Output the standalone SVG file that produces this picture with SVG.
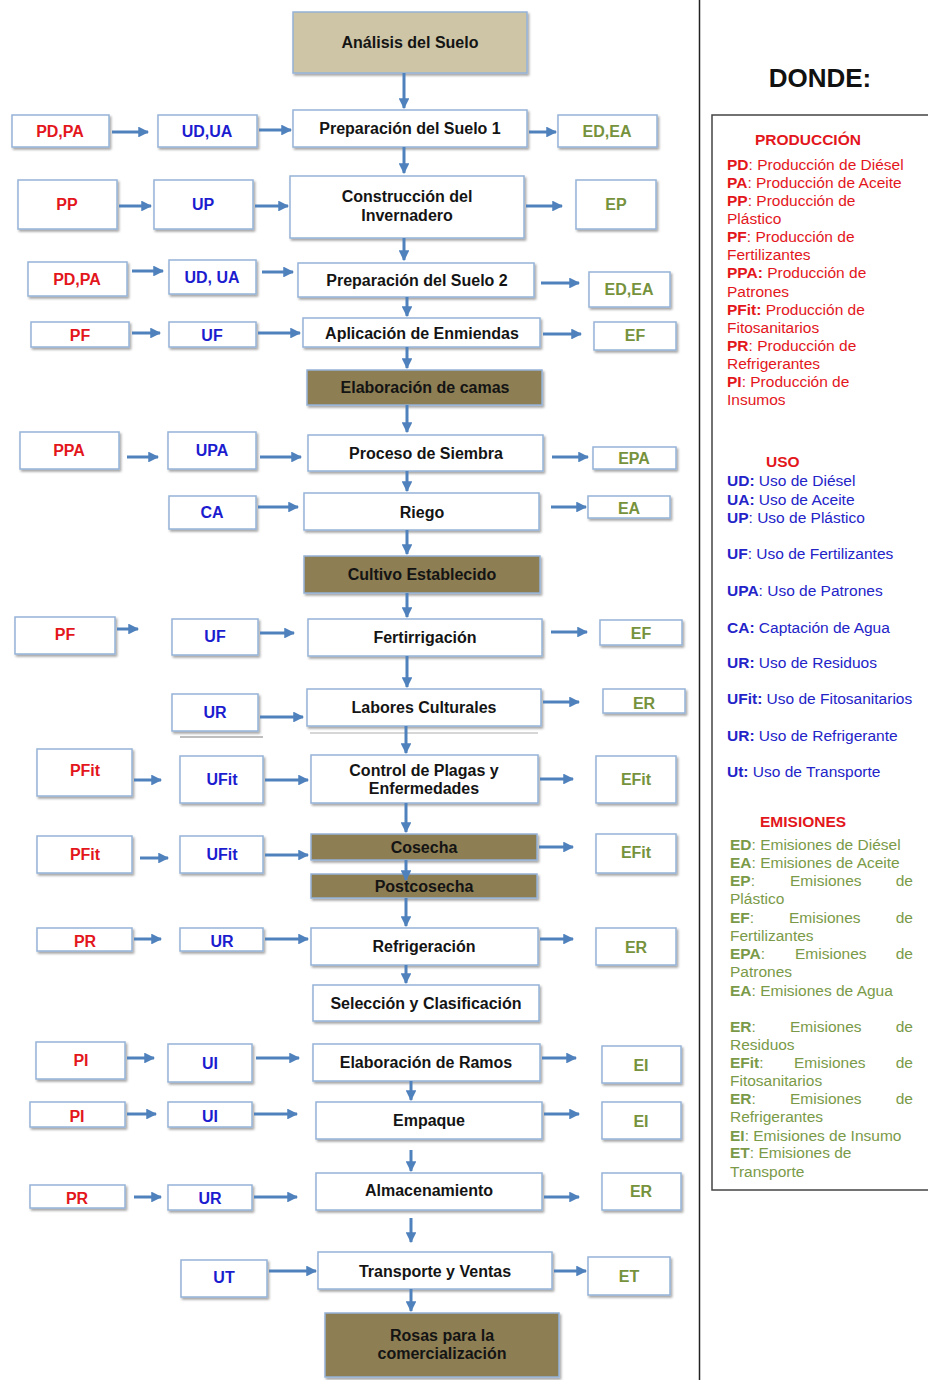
<svg xmlns="http://www.w3.org/2000/svg" width="928" height="1380" viewBox="0 0 928 1380">
<defs>
  <filter id="sh" x="-10%" y="-10%" width="130%" height="140%">
    <feDropShadow dx="1.5" dy="2" stdDeviation="1.2" flood-color="#000" flood-opacity="0.35"/>
  </filter>
  <marker id="ah" viewBox="0 0 10 10" refX="9" refY="5" markerWidth="3.6" markerHeight="3.6" orient="auto" markerUnits="strokeWidth">
    <path d="M0,0 L10,5 L0,10 z" fill="#4f81bd"/>
  </marker>
  <style>
    .b{fill:#fff;stroke:#95b3d7;stroke-width:1.5;filter:url(#sh)}
    .k1{fill:#cdc5a5;stroke:#95b3d7;stroke-width:1.5;filter:url(#sh)}
    .k2{fill:#8d7e53;stroke:#95b3d7;stroke-width:1.5;filter:url(#sh)}
    text{font-family:"Liberation Sans",Arial,sans-serif}
    .m{font-size:16px;font-weight:bold;fill:#141414;text-anchor:middle}
    .p{font-size:16px;font-weight:bold;fill:#e3161c;text-anchor:middle}
    .u{font-size:16px;font-weight:bold;fill:#1c1ccf;text-anchor:middle}
    .e{font-size:16px;font-weight:bold;fill:#76923c;text-anchor:middle}
    .c line{stroke:#4f81bd;stroke-width:3;marker-end:url(#ah)}
    .lg{font-size:15.5px}
    .lr{fill:#e3161c}
    .lu{fill:#2323c8}
    .le{fill:#7a9a48}
    .bo{font-weight:bold}
  </style>
</defs>
<rect width="928" height="1380" fill="#fff"/>

<!-- separator and legend frame -->
<line x1="699.5" y1="0" x2="699.5" y2="1380" stroke="#222" stroke-width="1.5"/>
<rect x="712" y="115" width="220" height="1075" fill="none" stroke="#444" stroke-width="1.5"/>
<text x="820" y="87" style="font-size:26px;font-weight:bold;fill:#111" text-anchor="middle">DONDE:</text>

<!-- main process column -->
<g id="n1"><rect class="k1" x="293" y="12" width="234" height="61"/><text class="m" x="410" y="47.5">Análisis del Suelo</text></g>
<g id="n2"><rect class="b" x="293" y="110" width="234" height="37"/><text class="m" x="410" y="133.5">Preparación del Suelo 1</text></g>
<g id="n3"><rect class="b" x="290" y="176" width="234" height="62"/><text class="m" x="407" y="202">Construcción del</text><text class="m" x="407" y="221">Invernadero</text></g>
<g id="n4"><rect class="b" x="298" y="263" width="236" height="34"/><text class="m" x="417" y="286">Preparación del Suelo 2</text></g>
<g id="n5"><rect class="b" x="303" y="318" width="237" height="29"/><text class="m" x="422" y="338.5">Aplicación de Enmiendas</text></g>
<g id="n6"><rect class="k2" x="307" y="370" width="235" height="35"/><text class="m" x="425" y="393">Elaboración de camas</text></g>
<g id="n7"><rect class="b" x="308" y="435" width="235" height="36"/><text class="m" x="426" y="458.5">Proceso de Siembra</text></g>
<g id="n8"><rect class="b" x="304" y="493" width="235" height="37"/><text class="m" x="422" y="517.5">Riego</text></g>
<g id="n9"><rect class="k2" x="304" y="556" width="236" height="37"/><text class="m" x="422" y="580">Cultivo Establecido</text></g>
<g id="n10"><rect class="b" x="308" y="619" width="234" height="37"/><text class="m" x="425" y="643">Fertirrigación</text></g>
<g id="n11"><rect class="b" x="307" y="689" width="234" height="37"/><text class="m" x="424" y="713">Labores Culturales</text><line x1="310" y1="733" x2="538" y2="733" stroke="#c8c8c8" stroke-width="1.5"/></g>
<g id="n12"><rect class="b" x="311" y="755" width="227" height="48"/><text class="m" x="424" y="776">Control de Plagas y</text><text class="m" x="424" y="794">Enfermedades</text></g>
<g id="n13"><rect class="k2" x="311" y="834" width="226" height="26"/><text class="m" x="424" y="853">Cosecha</text></g>
<g id="n14"><rect class="k2" x="311" y="874" width="226" height="24"/><text class="m" x="424" y="892">Postcosecha</text></g>
<g id="n15"><rect class="b" x="311" y="928" width="227" height="37"/><text class="m" x="424" y="952">Refrigeración</text></g>
<g id="n16"><rect class="b" x="313" y="985" width="226" height="36"/><text class="m" x="426" y="1009">Selección y Clasificación</text></g>
<g id="n17"><rect class="b" x="313" y="1044" width="227" height="37"/><text class="m" x="426" y="1068">Elaboración de Ramos</text></g>
<g id="n18"><rect class="b" x="316" y="1102" width="226" height="37"/><text class="m" x="429" y="1126">Empaque</text></g>
<g id="n19"><rect class="b" x="316" y="1173" width="226" height="37"/><text class="m" x="429" y="1196">Almacenamiento</text></g>
<g id="n20"><rect class="b" x="318" y="1252" width="234" height="37"/><text class="m" x="435" y="1277">Transporte y Ventas</text></g>
<g id="n21"><rect class="k2" x="325" y="1313" width="234" height="64"/><text class="m" x="442" y="1341">Rosas para la</text><text class="m" x="442" y="1359">comercialización</text></g>

<!-- production / use / emission boxes -->
<g id="r1p"><rect class="b" x="12" y="115" width="97" height="32"/><text class="p" x="60" y="137">PD,PA</text></g>
<g id="r1u"><rect class="b" x="158" y="115" width="99" height="32"/><text class="u" x="207" y="137">UD,UA</text></g>
<g id="r1e"><rect class="b" x="558" y="115" width="99" height="32"/><text class="e" x="607" y="137">ED,EA</text></g>

<g id="r2p"><rect class="b" x="18" y="180" width="99" height="49"/><text class="p" x="67" y="209.5">PP</text></g>
<g id="r2u"><rect class="b" x="154" y="180" width="99" height="49"/><text class="u" x="203" y="209.5">UP</text></g>
<g id="r2e"><rect class="b" x="576" y="180" width="80" height="49"/><text class="e" x="616" y="209.5">EP</text></g>

<g id="r3p"><rect class="b" x="28" y="262" width="99" height="34"/><text class="p" x="77" y="284.5">PD,PA</text></g>
<g id="r3u"><rect class="b" x="169" y="260" width="87" height="34"/><text class="u" x="212" y="282.5">UD, UA</text></g>
<g id="r3e"><rect class="b" x="589" y="272" width="81" height="35"/><text class="e" x="629" y="294.5">ED,EA</text></g>

<g id="r4p"><rect class="b" x="31" y="322" width="98" height="25"/><text class="p" x="80" y="340.5">PF</text></g>
<g id="r4u"><rect class="b" x="169" y="322" width="87" height="25"/><text class="u" x="212" y="340.5">UF</text></g>
<g id="r4e"><rect class="b" x="594" y="322" width="82" height="28"/><text class="e" x="635" y="341">EF</text></g>

<g id="r5p"><rect class="b" x="20" y="432" width="99" height="37"/><text class="p" x="69" y="455.5">PPA</text></g>
<g id="r5u"><rect class="b" x="168" y="432" width="88" height="37"/><text class="u" x="212" y="455.5">UPA</text></g>
<g id="r5e"><rect class="b" x="593" y="447" width="83" height="22"/><text class="e" x="634" y="463.5">EPA</text></g>

<g id="r6u"><rect class="b" x="169" y="496" width="87" height="33"/><text class="u" x="212" y="517.5">CA</text></g>
<g id="r6e"><rect class="b" x="588" y="496" width="82" height="22"/><text class="e" x="629" y="513.5">EA</text></g>

<g id="r7p"><rect class="b" x="15" y="617" width="100" height="37"/><text class="p" x="65" y="639.5">PF</text></g>
<g id="r7u"><rect class="b" x="172" y="619" width="86" height="36"/><text class="u" x="215" y="641.5">UF</text></g>
<g id="r7e"><rect class="b" x="600" y="620" width="82" height="25"/><text class="e" x="641" y="638.5">EF</text></g>

<g id="r8u"><line x1="180" y1="737" x2="263" y2="737" stroke="#a8a8a8" stroke-width="1.5"/><rect class="b" x="172" y="694" width="86" height="37"/><text class="u" x="215" y="717.5">UR</text></g>
<g id="r8e"><rect class="b" x="603" y="689" width="82" height="24"/><text class="e" x="644" y="708.5">ER</text></g>

<g id="r9p"><rect class="b" x="37" y="749" width="95" height="47"/><text class="p" x="85" y="775.5">PFit</text></g>
<g id="r9u"><rect class="b" x="180" y="756" width="83" height="47"/><text class="u" x="222" y="784.5">UFit</text></g>
<g id="r9e"><rect class="b" x="596" y="756" width="80" height="47"/><text class="e" x="636" y="784.5">EFit</text></g>

<g id="r10p"><rect class="b" x="37" y="836" width="95" height="37"/><text class="p" x="85" y="859.5">PFit</text></g>
<g id="r10u"><rect class="b" x="180" y="836" width="83" height="37"/><text class="u" x="222" y="859.5">UFit</text></g>
<g id="r10e"><rect class="b" x="596" y="834" width="80" height="39"/><text class="e" x="636" y="857.5">EFit</text></g>

<g id="r11p"><rect class="b" x="37" y="928" width="95" height="23"/><text class="p" x="85" y="946.5">PR</text></g>
<g id="r11u"><rect class="b" x="180" y="928" width="83" height="23"/><text class="u" x="222" y="946.5">UR</text></g>
<g id="r11e"><rect class="b" x="596" y="928" width="80" height="37"/><text class="e" x="636" y="952.5">ER</text></g>

<g id="r12p"><rect class="b" x="36" y="1042" width="89" height="37"/><text class="p" x="81" y="1065.5">PI</text></g>
<g id="r12u"><rect class="b" x="168" y="1044" width="84" height="38"/><text class="u" x="210" y="1068.5">UI</text></g>
<g id="r12e"><rect class="b" x="602" y="1046" width="79" height="37"/><text class="e" x="641" y="1070.5">EI</text></g>

<g id="r13p"><rect class="b" x="30" y="1102" width="95" height="25"/><text class="p" x="77" y="1121.5">PI</text></g>
<g id="r13u"><rect class="b" x="168" y="1102" width="84" height="25"/><text class="u" x="210" y="1121.5">UI</text></g>
<g id="r13e"><rect class="b" x="602" y="1102" width="79" height="37"/><text class="e" x="641" y="1126.5">EI</text></g>

<g id="r14p"><rect class="b" x="30" y="1185" width="95" height="23"/><text class="p" x="77" y="1203.5">PR</text></g>
<g id="r14u"><rect class="b" x="168" y="1185" width="84" height="25"/><text class="u" x="210" y="1203.5">UR</text></g>
<g id="r14e"><rect class="b" x="602" y="1173" width="79" height="37"/><text class="e" x="641" y="1196.5">ER</text></g>

<g id="r15u"><rect class="b" x="181" y="1260" width="86" height="37"/><text class="u" x="224" y="1282.5">UT</text></g>
<g id="r15e"><rect class="b" x="588" y="1257" width="82" height="38"/><text class="e" x="629" y="1281.5">ET</text></g>

<!-- connectors -->
<g id="connectors" class="c">
  <line x1="404" y1="73" x2="404" y2="108"/>
  <line x1="404" y1="147" x2="404" y2="173"/>
  <line x1="404" y1="238" x2="404" y2="260"/>
  <line x1="407" y1="297" x2="407" y2="316"/>
  <line x1="407" y1="347" x2="407" y2="368"/>
  <line x1="407" y1="405" x2="407" y2="432"/>
  <line x1="407" y1="471" x2="407" y2="491"/>
  <line x1="407" y1="530" x2="407" y2="554"/>
  <line x1="407" y1="593" x2="407" y2="617"/>
  <line x1="407" y1="656" x2="407" y2="687"/>
  <line x1="406" y1="726" x2="406" y2="753"/>
  <line x1="406" y1="803" x2="406" y2="832"/>
  <line x1="406" y1="860" x2="406" y2="880"/>
  <line x1="406" y1="898" x2="406" y2="926"/>
  <line x1="406" y1="965" x2="406" y2="983"/>
  <line x1="411" y1="1081" x2="411" y2="1100"/>
  <line x1="411" y1="1150" x2="411" y2="1171"/>
  <line x1="411" y1="1218" x2="411" y2="1242"/>
  <line x1="411" y1="1289" x2="411" y2="1311"/>

  <line x1="112" y1="132" x2="148" y2="132"/>
  <line x1="259" y1="130" x2="291" y2="130"/>
  <line x1="529" y1="132" x2="556" y2="132"/>
  <line x1="119" y1="206" x2="151" y2="206"/>
  <line x1="255" y1="206" x2="288" y2="206"/>
  <line x1="526" y1="206" x2="562" y2="206"/>
  <line x1="132" y1="271" x2="163" y2="271"/>
  <line x1="262" y1="272" x2="293" y2="272"/>
  <line x1="541" y1="283" x2="579" y2="283"/>
  <line x1="132" y1="333" x2="160" y2="333"/>
  <line x1="258" y1="333" x2="300" y2="333"/>
  <line x1="543" y1="334" x2="581" y2="334"/>
  <line x1="127" y1="457" x2="158" y2="457"/>
  <line x1="260" y1="457" x2="301" y2="457"/>
  <line x1="552" y1="457" x2="588" y2="457"/>
  <line x1="258" y1="507" x2="298" y2="507"/>
  <line x1="551" y1="507" x2="586" y2="507"/>
  <line x1="117" y1="629" x2="138" y2="629"/>
  <line x1="260" y1="633" x2="294" y2="633"/>
  <line x1="551" y1="632" x2="587" y2="632"/>
  <line x1="260" y1="717" x2="303" y2="717"/>
  <line x1="543" y1="702" x2="579" y2="702"/>
  <line x1="134" y1="780" x2="161" y2="780"/>
  <line x1="265" y1="780" x2="308" y2="780"/>
  <line x1="540" y1="779" x2="573" y2="779"/>
  <line x1="140" y1="858" x2="168" y2="858"/>
  <line x1="265" y1="855" x2="308" y2="855"/>
  <line x1="539" y1="847" x2="573" y2="847"/>
  <line x1="134" y1="939" x2="161" y2="939"/>
  <line x1="265" y1="939" x2="308" y2="939"/>
  <line x1="540" y1="939" x2="573" y2="939"/>
  <line x1="127" y1="1058" x2="154" y2="1058"/>
  <line x1="256" y1="1058" x2="299" y2="1058"/>
  <line x1="542" y1="1058" x2="576" y2="1058"/>
  <line x1="127" y1="1114" x2="156" y2="1114"/>
  <line x1="254" y1="1114" x2="297" y2="1114"/>
  <line x1="544" y1="1114" x2="579" y2="1114"/>
  <line x1="134" y1="1197" x2="161" y2="1197"/>
  <line x1="254" y1="1197" x2="297" y2="1197"/>
  <line x1="544" y1="1197" x2="579" y2="1197"/>
  <line x1="269" y1="1271" x2="316" y2="1271"/>
  <line x1="554" y1="1271" x2="586" y2="1271"/>
</g>

<!-- legend -->
<g id="legend" class="lg">
  <g class="lr">
    <text class="bo" x="755" y="145">PRODUCCIÓN</text>
    <text x="727" y="170"><tspan class="bo">PD</tspan>: Producción de Diésel</text>
    <text x="727" y="188"><tspan class="bo">PA</tspan>: Producción de Aceite</text>
    <text x="727" y="206"><tspan class="bo">PP</tspan>: Producción de</text>
    <text x="727" y="224">Plástico</text>
    <text x="727" y="242"><tspan class="bo">PF</tspan>: Producción de</text>
    <text x="727" y="260">Fertilizantes</text>
    <text x="727" y="278"><tspan class="bo">PPA:</tspan> Producción de</text>
    <text x="727" y="297">Patrones</text>
    <text x="727" y="315"><tspan class="bo">PFit:</tspan> Producción de</text>
    <text x="727" y="333">Fitosanitarios</text>
    <text x="727" y="351"><tspan class="bo">PR</tspan>: Producción de</text>
    <text x="727" y="369">Refrigerantes</text>
    <text x="727" y="387"><tspan class="bo">PI</tspan>: Producción de</text>
    <text x="727" y="405">Insumos</text>
    <text class="bo" x="766" y="467">USO</text>
  </g>
  <g class="lu">
    <text x="727" y="486"><tspan class="bo">UD:</tspan> Uso de Diésel</text>
    <text x="727" y="505"><tspan class="bo">UA:</tspan> Uso de Aceite</text>
    <text x="727" y="523"><tspan class="bo">UP</tspan>: Uso de Plástico</text>
    <text x="727" y="559"><tspan class="bo">UF</tspan>: Uso de Fertilizantes</text>
    <text x="727" y="596"><tspan class="bo">UPA</tspan>: Uso de Patrones</text>
    <text x="727" y="633"><tspan class="bo">CA:</tspan> Captación de Agua</text>
    <text x="727" y="668"><tspan class="bo">UR:</tspan> Uso de Residuos</text>
    <text x="727" y="704"><tspan class="bo">UFit:</tspan> Uso de Fitosanitarios</text>
    <text x="727" y="741"><tspan class="bo">UR:</tspan> Uso de Refrigerante</text>
    <text x="727" y="777"><tspan class="bo">Ut:</tspan> Uso de Transporte</text>
  </g>
  <text class="lr bo" x="760" y="827">EMISIONES</text>
  <g class="le">
    <text x="730" y="850"><tspan class="bo">ED</tspan>: Emisiones de Diésel</text>
    <text x="730" y="868"><tspan class="bo">EA</tspan>: Emisiones de Aceite</text>
    <text x="730" y="886"><tspan class="bo">EP</tspan>:</text><text x="790" y="886">Emisiones</text><text x="913" y="886" text-anchor="end">de</text>
    <text x="730" y="904">Plástico</text>
    <text x="730" y="923"><tspan class="bo">EF</tspan>:</text><text x="789" y="923">Emisiones</text><text x="913" y="923" text-anchor="end">de</text>
    <text x="730" y="941">Fertilizantes</text>
    <text x="730" y="959"><tspan class="bo">EPA</tspan>:</text><text x="795" y="959">Emisiones</text><text x="913" y="959" text-anchor="end">de</text>
    <text x="730" y="977">Patrones</text>
    <text x="730" y="996"><tspan class="bo">EA</tspan>: Emisiones de Agua</text>
    <text x="730" y="1032"><tspan class="bo">ER</tspan>:</text><text x="790" y="1032">Emisiones</text><text x="913" y="1032" text-anchor="end">de</text>
    <text x="730" y="1050">Residuos</text>
    <text x="730" y="1068"><tspan class="bo">EFit</tspan>:</text><text x="794" y="1068">Emisiones</text><text x="913" y="1068" text-anchor="end">de</text>
    <text x="730" y="1086">Fitosanitarios</text>
    <text x="730" y="1104"><tspan class="bo">ER</tspan>:</text><text x="790" y="1104">Emisiones</text><text x="913" y="1104" text-anchor="end">de</text>
    <text x="730" y="1122">Refrigerantes</text>
    <text x="730" y="1141"><tspan class="bo">EI</tspan>: Emisiones de Insumo</text>
    <text x="730" y="1158"><tspan class="bo">ET</tspan>: Emisiones de</text>
    <text x="730" y="1177">Transporte</text>
  </g>
</g>
</svg>
